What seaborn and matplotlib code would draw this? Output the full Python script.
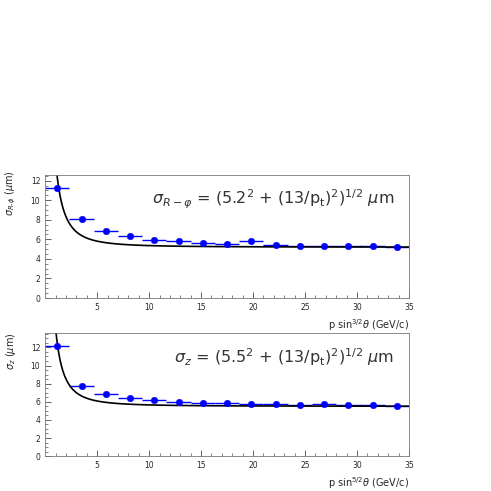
import numpy as np
import pandas as pd
import matplotlib
matplotlib.use("Agg")
import matplotlib.pyplot as plt
import seaborn as sns

# bin centres (GeV/c) and measured resolutions (um)
p_bins = [1.17, 3.5, 5.83, 8.17, 10.5, 12.83, 15.17, 17.5, 19.83, 22.17, 24.5, 26.83, 29.17, 31.5, 33.83]
bin_half = 1.17
sigma_rphi = [11.3, 8.1, 6.9, 6.3, 5.95, 5.8, 5.6, 5.55, 5.85, 5.4, 5.35, 5.3, 5.3, 5.28, 5.22]
sigma_z = [12.2, 7.75, 6.85, 6.4, 6.15, 5.95, 5.85, 5.85, 5.75, 5.7, 5.65, 5.7, 5.6, 5.65, 5.55]

# fit parameters
a_rphi, a_z, b = 5.2, 5.5, 13.0

sns.set_style("white")
fig = plt.figure(figsize=(4.91, 4.91), dpi=100)
ax1 = fig.add_axes([0.092, 0.393, 0.741, 0.251])
ax2 = fig.add_axes([0.092, 0.071, 0.741, 0.251])

pt = np.linspace(0.3, 35, 600)
panels = [
    (ax1, sigma_rphi, a_rphi, 12.6, r'$\sigma_{R\text{-}\phi}$ ($\mu$m)',
     r'p sin$^{3/2}\theta$ (GeV/c)',
     r'$\sigma_{R-\varphi}$ = (5.2$^2$ + (13/p$_{\rm t}$)$^2$)$^{1/2}$ $\mu$m'),
    (ax2, sigma_z, a_z, 13.6, r'$\sigma_z$ ($\mu$m)',
     r'p sin$^{5/2}\theta$ (GeV/c)',
     r'$\sigma_z$ = (5.5$^2$ + (13/p$_{\rm t}$)$^2$)$^{1/2}$ $\mu$m'),
]

for ax, vals, a, ymax, ylab, xlab, formula in panels:
    df = pd.DataFrame({'p': p_bins, 'sigma': vals})
    fit = pd.DataFrame({'p': pt, 'sigma': np.sqrt(a**2 + (b / pt)**2)})
    ax.errorbar(df['p'], df['sigma'], xerr=bin_half, fmt='none', ecolor='blue', elinewidth=1)
    sns.lineplot(data=fit, x='p', y='sigma', ax=ax, color='black', lw=1.2)
    sns.scatterplot(data=df, x='p', y='sigma', ax=ax, color='blue', s=22, edgecolor='blue', zorder=3)
    ax.set_xlim(0, 35)
    ax.set_ylim(0, ymax)
    ax.set_xticks([5, 10, 15, 20, 25, 30, 35])
    ax.set_yticks([0, 2, 4, 6, 8, 10, 12])
    ax.set_xticks(np.arange(1, 35, 1), minor=True)
    ax.set_yticks(np.arange(0, ymax, 0.5), minor=True)
    ax.tick_params(labelsize=5.5, length=4, width=0.5, direction='in', which='major', bottom=True, left=True)
    ax.tick_params(length=2, width=0.4, direction='in', which='minor', bottom=True, left=True)
    for s in ax.spines.values():
        s.set_linewidth(0.6)
        s.set_color('#777777')
    ax.set_ylabel(ylab, fontsize=7)
    ax.set_xlabel(xlab, fontsize=7, loc='right')
    ax.yaxis.set_label_coords(-0.075, 0.85)
    ax.text(0.96, 0.8, formula, transform=ax.transAxes, ha='right', va='center', fontsize=11.5, color='#333333')

fig.savefig('out.png', dpi=100)
